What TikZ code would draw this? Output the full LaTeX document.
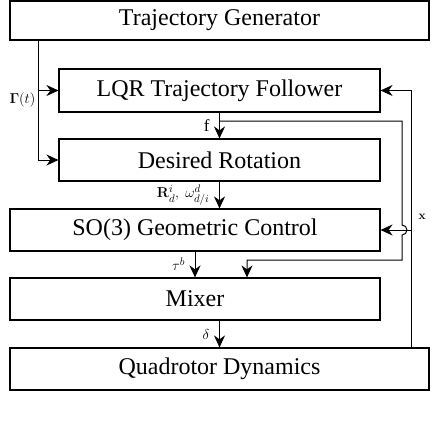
\documentclass[tikz,border=0pt]{standalone}
\usepackage{amsmath}
\usepackage{amssymb}
\usepackage[no-math]{fontspec}
\setmainfont{Liberation Serif}
\usetikzlibrary{
  positioning,
  arrows.meta,
  calc
}
\tikzset{
  block/.style={
    draw,
    line width=1.1pt,
    minimum height=42pt,
    inner sep=0pt,
    font=\fontsize{24}{28}\selectfont,
  },
  sig/.style={
    ->,
    >={Stealth[length=12pt,width=11pt]},
    line width=1pt,
  },
  lbl/.style={
    font=\fontsize{15}{17}\selectfont,
    inner sep=1.5pt,
  },
  biglbl/.style={
    lbl,
    font=\fontsize{17}{19}\selectfont,
  },
}

\begin{document}
\begin{tikzpicture}[x=1pt,y=1pt]
	\useasboundingbox (0,0) rectangle (434,-426);

	% blocks
	\node[block, minimum width=419pt, minimum height=39pt] (gen) at (219.5,-20.5) {Trajectory Generator};
	\node[block, minimum width=321pt, minimum height=43pt] (lqr) at (219.5,-90.5) {LQR Trajectory Follower};
	\node[block, minimum width=321pt] (rot) at (219.5,-160) {Desired Rotation};
	\node[block, minimum width=370pt] (geo) at (195,-230) {SO(3) Geometric Control};
	\node[block, minimum width=370pt] (mix) at (195,-299) {Mixer};
	\node[block, minimum width=419pt] (quad) at (219.5,-369) {Quadrotor Dynamics};

	% helper points
	\coordinate (tap) at ($(gen.south west)+(29,0)$);
	\coordinate (fj) at (219.5,-121);
	\coordinate (thr) at (247,-260);
	\coordinate (xb) at ($(quad.north west)+(402,0)$);

	% reference trajectory
	\draw[sig] (tap) |- (lqr.west);
	\draw[sig] (tap) |- (rot.west);
	\node[lbl, anchor=east] (gam) at (37,-100) {$\mathbf{\Gamma}(t)$};

	% forward path
	\draw[sig] (lqr) -- node[biglbl, left=8pt] (flbl) {f} (rot);
	\draw[sig] (rot.south) -- node[lbl, left=8pt] (rlbl) {$\mathbf{R}_d^i,\ \omega_{d/i}^d$} (rot.south |- geo.north);
	\draw[sig] (geo.south) -- node[lbl, left=8pt] (tlbl) {$\tau^b$} (geo.south |- mix.north);
	\draw[sig] (quad.north |- mix.south) -- node[lbl, left=8pt] (dlbl) {$\delta$} (quad.north);

	% thrust to mixer, hopping over the state line
	\draw[sig] (fj) -| (402,-225) arc (90:-90:5pt) |- (thr) -- (thr |- mix.north);

	% state feedback
	\draw[sig] (xb) |- (lqr.east);
	\draw[sig] (xb |- geo.east) -- (geo.east);
	\node[lbl, anchor=west, font=\fontsize{12}{14}\selectfont] (xlbl) at (417,-217) {$\mathbf{x}$};

\end{tikzpicture}
\end{document}
